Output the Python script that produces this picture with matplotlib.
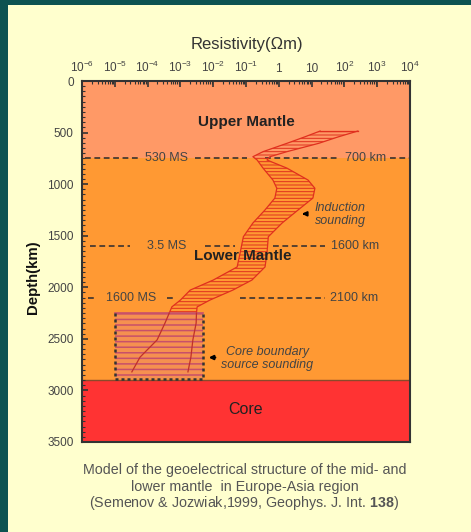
import numpy as np
import matplotlib
matplotlib.use("Agg")
import matplotlib.pyplot as plt
from matplotlib.patches import Rectangle

plt.rcParams['font.family'] = ['Liberation Sans', 'DejaVu Sans']
plt.rcParams['mathtext.fontset'] = 'custom'
plt.rcParams['mathtext.rm'] = 'Liberation Sans'
plt.rcParams['mathtext.bf'] = 'Liberation Sans:bold'

# layers (depth km)
layer_names = ["Upper Mantle", "Lower Mantle", "Core"]
layer_top = [0, 745, 2900]
layer_bottom = [745, 2900, 3500]
layer_colors = ['#FF9966', '#FF9933', '#FF3333']

# dashed boundaries and their labels
bound_depth = [745, 1600, 2100]
bound_left_label = ["530 MS", "3.5 MS", "1600 MS"]
bound_right_label = ["700 km", "1600 km", "2100 km"]

# induction sounding band, log10(resistivity)
band_depth = [485, 543, 604, 685, 734, 766, 845, 960, 1040, 1135, 1250, 1377,
              1510, 1668, 1803, 1930, 2027, 2124, 2190, 2250]
band_left = [1.26, 0.78, 0.25, -0.48, -0.79, -0.66, -0.48, -0.18, -0.06, -0.12,
             -0.42, -0.79, -1.08, -1.18, -1.27, -2.0, -2.7, -3.0, -3.26, -3.34]
band_right = [2.41, 1.80, 1.22, 0.25, -0.27, -0.36, 0.25, 0.89, 1.10, 1.04,
              0.59, 0.10, -0.32, -0.36, -0.42, -0.82, -1.4, -2.1, -2.49, -2.51]

# core boundary source sounding
core_depth = [2250, 2347, 2510, 2677, 2820]
core_left = [-3.34, -3.47, -3.71, -4.23, -4.48]
core_right = [-2.51, -2.52, -2.62, -2.68, -2.77]
box_rho = [-4.99, -2.31]
box_depth = [2250, 2890]

xtick_exp = [-6, -5, -4, -3, -2, -1, 0, 1, 2, 3, 4]
ytick_vals = [0, 500, 1000, 1500, 2000, 2500, 3000, 3500]

W, H = 471, 532
fig = plt.figure(figsize=(W / 100, H / 100), dpi=100, facecolor='#0D5351')
fig.patches.append(Rectangle((8 / W, 0), 1, (H - 5) / H, transform=fig.transFigure,
                             facecolor='#FFFFCE', edgecolor='none', zorder=-10))

ax = fig.add_axes([82 / W, 1 - 442 / H, 328 / W, 361 / H])
ax.set_xscale('log')
ax.set_xlim(1e-6, 1e4)
ax.set_ylim(3500, 0)

for name, t, b, c in zip(layer_names, layer_top, layer_bottom, layer_colors):
    ax.axhspan(t, b, color=c, lw=0, zorder=0)
ax.axhline(2900, color='#8B4A2A', lw=1, zorder=1)

# dashed lines with gaps for labels
ytr = ax.get_yaxis_transform()
segs = [[(0.009, 0.177), (0.345, 0.503), (0.558, 0.78), (0.939, 1.0)],
        [(0.024, 0.146), (0.375, 0.466), (0.582, 0.741)],
        [(0.018, 0.043), (0.259, 0.28), (0.482, 0.741)]]
lab_x = [(0.259, 0.863), (0.259, 0.832), (0.149, 0.829)]
for d, sl, lx, ll, rl in zip(bound_depth, segs, lab_x, bound_left_label, bound_right_label):
    for x0, x1 in sl:
        ax.plot([x0, x1], [d, d], transform=ytr, color='#4A3A30', lw=1.3,
                dashes=(3.2, 2.0), zorder=2)
    ax.text(lx[0], d, ll, transform=ytr, ha='center', va='center', fontsize=9, color='#444444')
    ax.text(lx[1], d, rl, transform=ytr, ha='center', va='center', fontsize=9, color='#444444')

# induction band
bl = 10 ** np.array(band_left)
br = 10 ** np.array(band_right)
with plt.rc_context({'hatch.linewidth': 0.7}):
    ax.fill_betweenx(band_depth, bl, br, facecolor='none', edgecolor='#E0301E',
                     hatch='-----', lw=0, zorder=3)
ax.plot(bl, band_depth, color='#E0301E', lw=0.9, zorder=4)
ax.plot(br, band_depth, color='#E0301E', lw=0.9, zorder=4)
ax.plot([bl[0], br[0]], [band_depth[0]] * 2, color='#E0301E', lw=0.9, zorder=4)

# core boundary box
bx0, bx1 = 10 ** box_rho[0], 10 ** box_rho[1]
with plt.rc_context({'hatch.linewidth': 1.1}):
    ax.fill_between([bx0, bx1], box_depth[0], box_depth[1], facecolor='#F59050',
                    edgecolor='#C8506A', hatch='---', lw=0, zorder=3)
ax.plot([bx0, bx1], [box_depth[0]] * 2, color='#C8506A', lw=1.2, zorder=4)
ax.plot([bx0, bx0, bx1, bx1], [box_depth[0], box_depth[1], box_depth[1], box_depth[0]],
        color='#333333', lw=1.8, dashes=(1.2, 1.2), zorder=5)
ax.plot(10 ** np.array(core_left), core_depth, color='#C0302A', lw=0.9, zorder=4)
ax.plot(10 ** np.array(core_right), core_depth, color='#C0302A', lw=0.9, zorder=4)

# layer names
ax.text(0.5, 0.886, "Upper Mantle", transform=ax.transAxes, ha='center', va='center',
        fontsize=11, fontweight='bold', color='#222222')
ax.text(0.491, 0.515, "Lower Mantle", transform=ax.transAxes, ha='center', va='center',
        fontsize=11, fontweight='bold', color='#222222', zorder=6)
ax.text(0.5, 0.089, "Core", transform=ax.transAxes, ha='center', va='center',
        fontsize=11.5, color='#222222')

ax.text(0.71, 0.629, "Induction\nsounding", transform=ax.transAxes, ha='left', va='center',
        fontsize=9, style='italic', color='#444444', linespacing=1.1)
ax.annotate('', xy=(0.662, 0.632), xytext=(0.692, 0.632), xycoords='axes fraction',
            arrowprops=dict(arrowstyle='-|>', color='black', lw=1.5, mutation_scale=6))
ax.text(0.565, 0.232, "Core boundary\nsource sounding", transform=ax.transAxes, ha='center',
        va='center', fontsize=9, style='italic', color='#444444', linespacing=1.1)
ax.annotate('', xy=(0.378, 0.234), xytext=(0.415, 0.234), xycoords='axes fraction',
            arrowprops=dict(arrowstyle='-|>', color='black', lw=1.5, mutation_scale=6))

# axes styling
for s in ax.spines.values():
    s.set_color('#333333')
    s.set_linewidth(1.5)
ax.xaxis.tick_top()
ax.set_xticks([10.0 ** e for e in xtick_exp])
xlabels = []
for e in xtick_exp:
    if e == 0:
        xlabels.append('1')
    elif e == 1:
        xlabels.append('10')
    else:
        xlabels.append(r'$10^{%d}$' % e)
ax.set_xticklabels(xlabels)
ax.xaxis.set_minor_locator(matplotlib.ticker.LogLocator(base=10, subs=np.arange(2, 10), numticks=100))
ax.xaxis.set_minor_formatter(matplotlib.ticker.NullFormatter())
ax.set_yticks(ytick_vals)
ax.set_yticks(np.arange(0, 3501, 50), minor=True)
ax.tick_params(axis='x', which='major', direction='in', length=4, width=1.2, colors='#333333',
               labelsize=8.5, pad=4, top=True, bottom=False)
ax.tick_params(axis='x', which='minor', direction='in', length=2.5, width=0.8, colors='#333333',
               top=True, bottom=False)
ax.tick_params(axis='y', which='major', direction='in', length=4, width=1.2, colors='#333333',
               labelsize=8.5, pad=6)
ax.tick_params(axis='y', which='minor', direction='in', length=2.5, width=0.8, colors='#333333')
for lab in ax.get_xticklabels() + ax.get_yticklabels():
    lab.set_color('#444444')

fig.text(247 / W, 1 - 45 / H, "Resistivity(\u03a9m)", ha='center', va='center',
         fontsize=12, color='#333333')
fig.text(33 / W, 1 - 277 / H, "Depth(km)", ha='center', va='center', rotation=90,
         fontsize=10.8, fontweight='bold', color='#111111')

cap_color = '#555555'
fig.text(245 / W, 1 - 470 / H, "Model of the geoelectrical structure of the mid- and",
         ha='center', va='center', fontsize=10.3, color=cap_color)
fig.text(245 / W, 1 - 487 / H, "lower mantle  in Europe-Asia region",
         ha='center', va='center', fontsize=10.3, color=cap_color)
fig.text(244 / W, 1 - 503 / H, r"(Semenov & Jozwiak,1999, Geophys. J. Int. $\mathbf{138}$)",
         ha='center', va='center', fontsize=10.3, color=cap_color)

fig.savefig("out.png", dpi=100, facecolor=fig.get_facecolor())
